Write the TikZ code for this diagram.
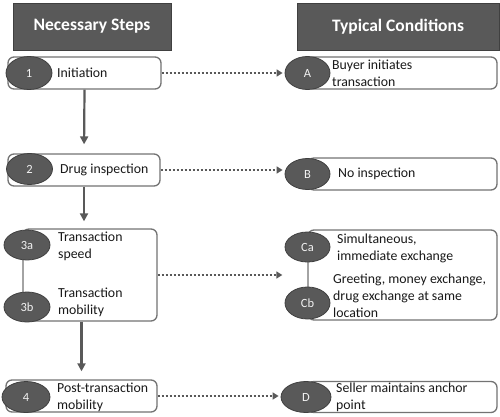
\documentclass[tikz,border=0pt]{standalone}
\usepackage{fontspec}
\setmainfont{Carlito}
\usetikzlibrary{shapes.geometric,arrows.meta}

\tikzset{
  header/.style={draw=black!75, fill=black!65, text=white, line width=0.8pt,
    font=\fontsize{17.5}{20}\selectfont\bfseries, minimum height=47pt, inner sep=0pt},
  stepbox/.style={draw=black!55, fill=white, line width=1.3pt, rounded corners=6pt,
    inner sep=0pt},
  badge/.style={ellipse, draw=black!75, fill=black!65, text=black!5, line width=0.8pt,
    minimum width=46pt, minimum height=31pt, inner sep=0pt, font=\fontsize{12.5}{14}\selectfont},
  steptext/.style={anchor=west, align=left, inner sep=0pt, text=black!90,
    font=\fontsize{13.8}{16.8}\selectfont},
  steparrow/.style={draw=black!65, line width=2.2pt, -{Triangle[length=8pt,width=8pt]}},
  dotarrow/.style={draw=black!65, line width=2.1pt, dash pattern=on 2pt off 2pt,
    -{Triangle[length=6pt,width=7pt]}, shorten >=2pt}
}

\begin{document}
\begin{tikzpicture}[x=1pt,y=-1pt]
\useasboundingbox (0,0) rectangle (500,417);

% headers
\node[header, minimum width=158pt] (hsteps) at (92,26.5) {Necessary Steps};
\node[header, minimum width=202pt] (hcond) at (398,26.5) {Typical Conditions};

% left column
\node[stepbox, minimum width=153pt, minimum height=32pt] (box1) at (84.5,73) {};
\node[stepbox, minimum width=152pt, minimum height=32pt] (box2) at (84,170) {};
\node[stepbox, minimum width=134pt, minimum height=92pt] (box3) at (90,275) {};
\node[stepbox, minimum width=151pt, minimum height=32pt] (box4) at (81.5,396) {};

\node[badge, minimum height=33pt] (e1) at (29,73) {1};
\node[badge] (e2) at (29.5,169) {2};
\node[badge, minimum height=30pt] (e3a) at (27,245) {3a};
\node[badge, minimum height=30pt] (e3b) at (27,307) {3b};
\node[badge, minimum width=48pt] (e4) at (26,397) {4};

\node[steptext] (t1) at (57,73) {Initiation};
\node[steptext] (t2) at (60,170) {Drug inspection};
\node[steptext] (t3a) at (58,246) {Transaction\\speed};
\node[steptext] (t3b) at (58,302) {Transaction\\mobility};
\node[steptext] (t4) at (57,397) {Post-transaction\\mobility};

% right column
\node[stepbox, minimum width=189pt, minimum height=32pt] (boxA) at (402.5,73) {};
\node[stepbox, minimum width=189pt, minimum height=32pt] (boxB) at (402.5,174) {};
\node[stepbox, minimum width=189pt, minimum height=90pt] (boxC) at (402.5,275) {};
\node[stepbox, minimum width=189pt, minimum height=31pt] (boxD) at (402.5,397) {};

\node[badge, minimum width=45pt, minimum height=33pt] (eA) at (307.5,73) {A};
\node[badge, minimum width=45pt] (eB) at (307.5,174) {B};
\node[badge, minimum width=45pt, minimum height=30pt] (eCa) at (307.5,247) {Ca};
\node[badge, minimum width=45pt, minimum height=32pt] (eCb) at (307.5,303) {Cb};
\node[badge, minimum width=50pt] (eD) at (306,397) {D};

\node[steptext] (tA) at (332,73) {Buyer initiates\\transaction};
\node[steptext] (tB) at (338,174) {No inspection};
\node[steptext] (tCa) at (337,248) {Simultaneous,\\immediate exchange};
\node[steptext] (tCb) at (333,296) {Greeting, money exchange,\\drug exchange at same\\location};
\node[steptext] (tD) at (336,397) {Seller maintains anchor\\point};

% step arrows
\draw[steparrow, shorten >=9pt] (box1.south) -- (box2.north);
\draw[steparrow, shorten >=7pt] (box2.south) -- (box2.south |- box3.north);
\draw[steparrow, shorten >=8pt] (box4.north |- box3.south) -- (box4.north);

% dotted arrows
\draw[dotarrow] (box1.east) -- (eA.west);
\draw[dotarrow] (box2.east) -- (eB.west |- box2.east);
\draw[dotarrow, shorten >=25pt] (box3.east) -- (boxC.west);
\draw[dotarrow] (box4.east) -- (eD.west |- box4.east);
\end{tikzpicture}
\end{document}
